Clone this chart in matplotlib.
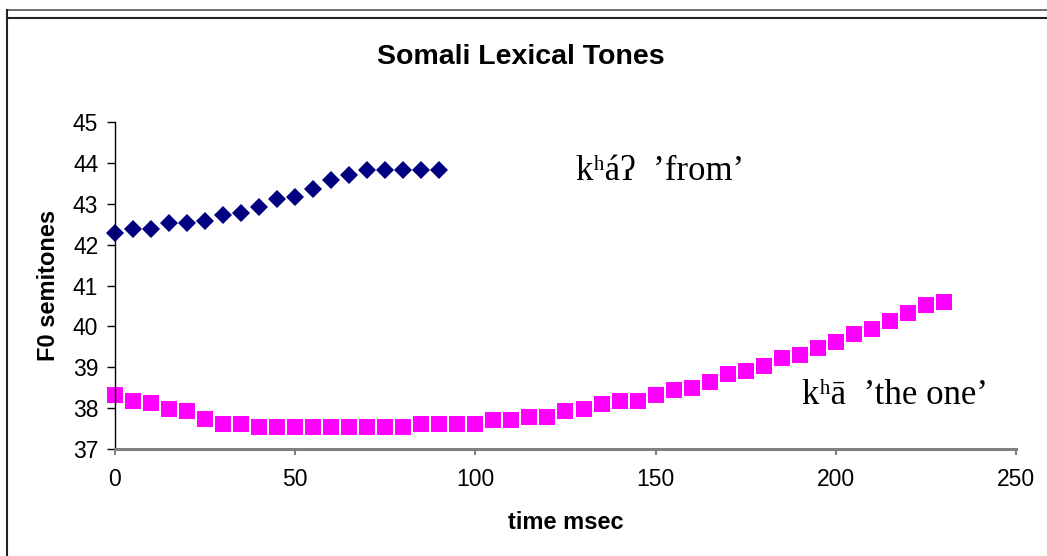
import numpy as np
import matplotlib
matplotlib.use("Agg")
import matplotlib.pyplot as plt
from matplotlib.lines import Line2D

# 数据：时间 (ms) 与 F0 半音值
time_from = list(range(0, 95, 5))
f0_from = [42.28, 42.39, 42.39, 42.52, 42.52, 42.59, 42.72, 42.78, 42.91, 43.11,
           43.17, 43.37, 43.57, 43.70, 43.82, 43.82, 43.82, 43.82, 43.82]

time_one = list(range(0, 235, 5))
f0_one = [38.32, 38.18, 38.12, 37.99, 37.93, 37.73, 37.60, 37.60, 37.53, 37.53,
          37.53, 37.53, 37.53, 37.53, 37.53, 37.53, 37.53, 37.60, 37.60, 37.60,
          37.60, 37.72, 37.72, 37.79, 37.79, 37.92, 37.98, 38.11, 38.18, 38.18,
          38.31, 38.44, 38.50, 38.64, 38.83, 38.90, 39.03, 39.22, 39.29, 39.48,
          39.61, 39.81, 39.94, 40.13, 40.33, 40.53, 40.59]

x_ticks = [0, 50, 100, 150, 200, 250]
y_ticks = [37, 38, 39, 40, 41, 42, 43, 44, 45]

plt.rcParams['font.family'] = ['Liberation Sans', 'DejaVu Sans']

fig = plt.figure(figsize=(10.47, 5.56), dpi=100)
ax = fig.add_axes([0.1098, 0.1924, 0.8606, 0.5882])

ax.plot(time_one, f0_one, linestyle='none', marker='s', markersize=11.5,
        color='#FF00FF', markeredgewidth=0, clip_on=False)
ax.plot(time_from, f0_from, linestyle='none', marker='D', markersize=9.2,
        color='#000080', markeredgewidth=0, clip_on=False)

ax.set_xlim(0, 250)
ax.set_ylim(37, 45)
ax.set_xticks(x_ticks)
ax.set_yticks(y_ticks)

for s in ['top', 'right']:
    ax.spines[s].set_visible(False)
ax.spines['left'].set_color('black')
ax.spines['left'].set_linewidth(1.0)
ax.spines['bottom'].set_color('#808080')
ax.spines['bottom'].set_linewidth(2.2)
ax.tick_params(axis='y', direction='out', length=6, width=1, colors='black',
               labelsize=16.5, pad=6)
ax.tick_params(axis='x', direction='out', length=4, width=1.5, color='#808080',
               labelcolor='black', labelsize=16.5, pad=10)

ax.set_xlabel('time msec', fontsize=17, fontweight='bold', labelpad=14)
ax.set_ylabel('F0 semitones', fontsize=17, fontweight='bold', labelpad=9)
fig.text(0.4975, 0.897, 'Somali Lexical Tones', fontsize=20.5, fontweight='bold',
         ha='center', va='center')

serif = ['Liberation Serif', 'DejaVu Serif']
ax.text(127.8, 43.8, 'kʰáʔ  ’from’', fontsize=25, family=serif,
        ha='left', va='center')
ax.text(190.5, 38.32, 'kʰā  ’the one’', fontsize=25, family=serif,
        ha='left', va='center')

# 外框线
fig.add_artist(Line2D([7 / 1047, 1], [1 - 10 / 556, 1 - 10 / 556],
                      transform=fig.transFigure, color='#555555', lw=1.2))
fig.add_artist(Line2D([7 / 1047, 1], [1 - 18 / 556, 1 - 18 / 556],
                      transform=fig.transFigure, color='#222222', lw=1.5))
fig.add_artist(Line2D([7 / 1047, 7 / 1047], [0, 1 - 10 / 556],
                      transform=fig.transFigure, color='#222222', lw=1.5))

fig.savefig('out.png', dpi=100)
